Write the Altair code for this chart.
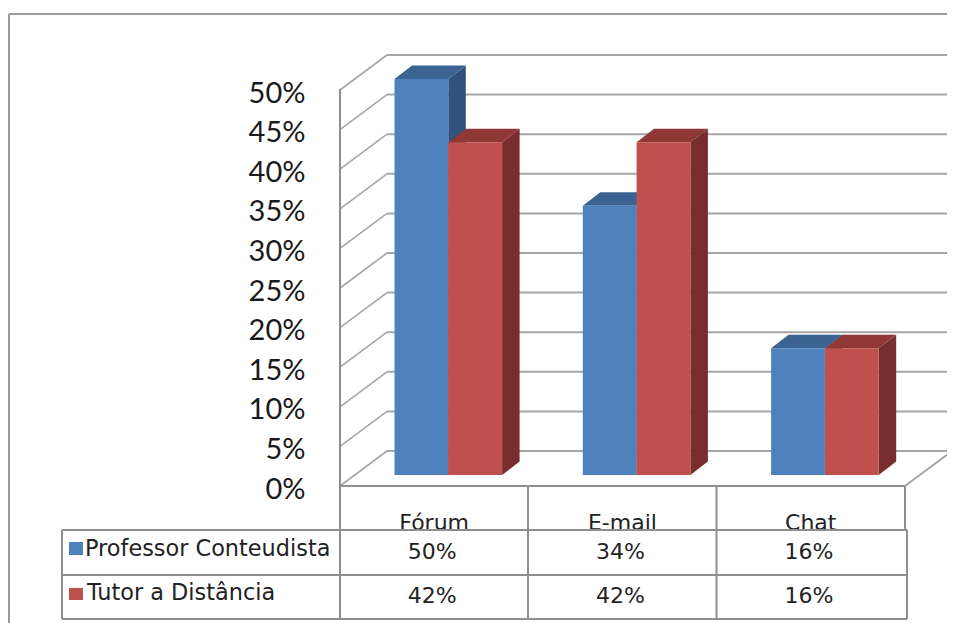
import altair as alt
import pandas as pd

categories = ["Fórum", "E-mail", "Chat"]
series_names = ["Professor Conteudista", "Tutor a Distância"]
professor = [50, 34, 16]
tutor = [42, 42, 16]
ticks = [0, 5, 10, 15, 20, 25, 30, 35, 40, 45, 50]

W, H = 939, 615
CAT_PX = 188.3
LEFT_PX, ZERO_PX, PER_PCT = 340.0, 486.0, 7.92


def ux(px):
    return (px - LEFT_PX) / CAT_PX


def vy(py):
    return (ZERO_PX - py) / PER_PCT


xs = alt.Scale(domain=[ux(8), ux(947)], range=[0, W], nice=False, zero=False)
ys = alt.Scale(domain=[vy(623), vy(8)], range=[H, 0], nice=False, zero=False)
XE = lambda: alt.X("x:Q", scale=xs, axis=None, title=None)
YE = lambda: alt.Y("y:Q", scale=ys, axis=None, title=None, stack=None)

WALL_DX, WALL_DY = ux(387) - ux(340), 35.0 / PER_PCT
BAR_W = 53.8 / CAT_PX
BAR_START = 54.5 / CAT_PX
BAR_DX, BAR_DY = 17.5 / CAT_PX, 13.5 / PER_PCT
BASE = 11.0 / PER_PCT


def rules(rows, color, width):
    d = pd.DataFrame(rows, columns=["x", "y", "x2", "y2"])
    return alt.Chart(d).mark_rule(color=color, strokeWidth=width).encode(
        x=XE(), y=YE(), x2="x2:Q", y2="y2:Q")


def px_rows(rows):
    return [(ux(a), vy(b), ux(c), vy(d)) for a, b, c, d in rows]


LINE = "#8f8f8f"
GRID = "#a6a6a6"

border = rules(px_rows([(9, 14, 947, 14), (9, 14, 9, 623)]), "#9a9a9a", 2)
grid = rules([(WALL_DX, t + WALL_DY, ux(947), t + WALL_DY) for t in ticks if t > 0],
             GRID, 2)
diag = rules([(0, t, WALL_DX, t + WALL_DY) for t in ticks], GRID, 1.6)
floor = rules([
    (WALL_DX, WALL_DY, ux(947), WALL_DY),
    (ux(905), 0, ux(952), WALL_DY),
], GRID, 2)
frame = rules(px_rows([
    (340, 89, 340, 619),
    (340, 486, 905, 486),
    (528, 486, 528, 619),
    (716.5, 486, 716.5, 619),
    (905, 486, 905, 530),
]), LINE, 2)

axis_df = pd.DataFrame({"y": ticks})
axis_layer = alt.Chart(axis_df).mark_point(opacity=0).encode(
    y=alt.Y("y:Q", scale=ys, title=None, axis=alt.Axis(
        values=ticks, grid=False, domain=False, ticks=False, orient="left",
        offset=-297, labelPadding=0, labelFont="Lato", labelFontSize=29,
        labelColor="#1a1a1a", labelOffset=3, labelExpr="datum.value + '%'",
        labelFlush=False, labelOverlap=False)),
)


def bar_layers(values, s_idx, front, top, side):
    front_rows, top_rows, side_rows = [], [], []
    for i, v in enumerate(values):
        x0 = i + BAR_START + s_idx * BAR_W
        x1 = x0 + BAR_W
        front_rows.append({"x": x0, "x2": x1, "y": BASE, "y2": BASE + v, "cat": categories[i]})
        top_rows += [
            {"x": x0, "x2": x1, "y": BASE + v, "f": i},
            {"x": x0 + BAR_DX, "x2": x1 + BAR_DX, "y": BASE + v + BAR_DY, "f": i},
        ]
        side_rows += [
            {"x": x1, "y": BASE, "y2": BASE + v, "f": i},
            {"x": x1 + BAR_DX, "y": BASE + BAR_DY, "y2": BASE + v + BAR_DY, "f": i},
        ]
    side_l = alt.Chart(pd.DataFrame(side_rows)).mark_area(color=side, orient="vertical").encode(
        x=XE(), y=YE(), y2="y2:Q", detail="f:N")
    top_l = alt.Chart(pd.DataFrame(top_rows)).mark_area(color=top, orient="horizontal").encode(
        y=YE(), x=alt.X("x:Q", scale=xs, axis=None, title=None, stack=None), x2="x2:Q", detail="f:N")
    front_l = alt.Chart(pd.DataFrame(front_rows)).mark_rect(color=front).encode(
        x=XE(), x2="x2:Q", y=YE(), y2="y2:Q")
    return [side_l, top_l, front_l]


blue = bar_layers(professor, 0, "#4f81bd", "#3a6391", "#31527b")
red = bar_layers(tutor, 1, "#c0504d", "#8f3835", "#772e2c")

FONT = "DejaVu Sans"
cat_text = alt.Chart(pd.DataFrame({
    "x": [i + 0.5 for i in range(3)], "y": [vy(530)] * 3, "t": categories,
})).mark_text(font=FONT, fontSize=22, baseline="alphabetic", color="#222222").encode(
    x=XE(), y=YE(), text="t:N")

table_fill = alt.Chart(pd.DataFrame({
    "x": [ux(62)], "x2": [ux(907)], "y": [vy(530)], "y2": [vy(619)],
})).mark_rect(color="white").encode(x=XE(), x2="x2:Q", y=YE(), y2="y2:Q")

table_lines = rules(px_rows([
    (62, 530, 907, 530), (62, 575, 907, 575), (62, 619, 907, 619),
    (62, 530, 62, 619), (340, 530, 340, 619), (528, 530, 528, 619),
    (716.5, 530, 716.5, 619), (907, 530, 907, 619),
]), LINE, 2)

rows_y = [552, 596]
val_rows = []
for r, vals in enumerate([professor, tutor]):
    for i, v in enumerate(vals):
        val_rows.append({"x": i + 0.49, "y": vy(rows_y[r]), "t": f"{v}%"})
val_text = alt.Chart(pd.DataFrame(val_rows)).mark_text(
    font=FONT, fontSize=22, baseline="middle", color="#222222").encode(
    x=XE(), y=YE(), text="t:N")

name_text = alt.Chart(pd.DataFrame({
    "x": [ux(85), ux(87)], "y": [vy(549), vy(593)], "t": series_names,
})).mark_text(font=FONT, fontSize=22.4, align="left", baseline="middle", color="#222222").encode(
    x=XE(), y=YE(), text="t:N")

swatch = alt.Chart(pd.DataFrame({
    "x": [ux(69), ux(69)], "x2": [ux(83), ux(83)],
    "y": [vy(542), vy(588)], "y2": [vy(555), vy(600)], "s": series_names,
})).mark_rect().encode(
    x=XE(), x2="x2:Q", y=YE(), y2="y2:Q",
    color=alt.Color("s:N", legend=None,
                    scale=alt.Scale(domain=series_names, range=["#4f81bd", "#c0504d"])),
)

chart = alt.layer(
    border, grid, diag, floor, frame, *blue, *red, cat_text, table_fill, table_lines,
    val_text, name_text, swatch, axis_layer,
).resolve_axis(y="independent").properties(
    width=W, height=H, padding=0, autosize=alt.AutoSizeParams(type="none"),
    background="white",
).configure_view(stroke=None)

chart.save("out.html", embed_options={"renderer": "svg", "actions": False})
